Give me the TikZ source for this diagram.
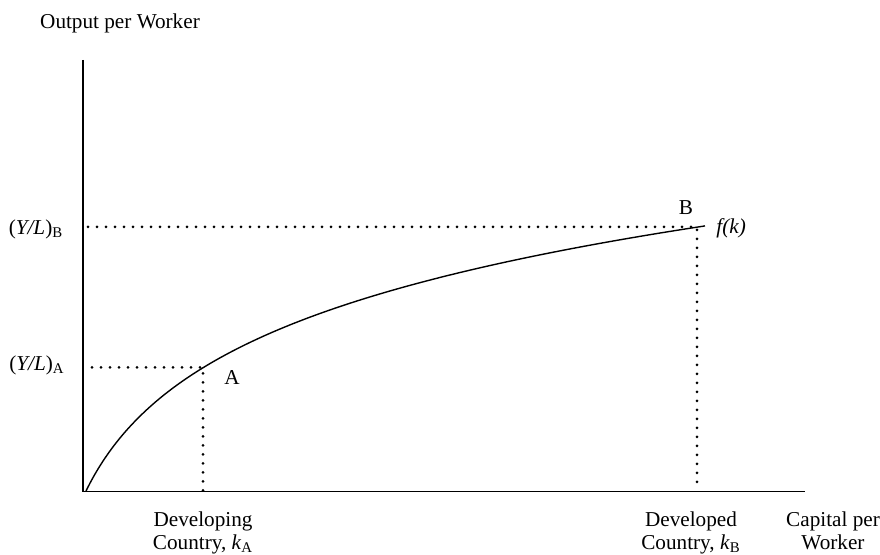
\documentclass[tikz,border=0pt]{standalone}
\usepackage{fontspec}
\setmainfont{Liberation Serif}
\begin{document}
\begin{tikzpicture}[x=0.5pt,y=-0.5pt,
  axis/.style={line width=0.8pt},
  curve/.style={line width=0.7pt},
  dots/.style={line width=1.5pt, line cap=round, dash pattern=on 0pt off 4.5pt},
  lbl/.style={font=\fontsize{10.6}{11.8}\selectfont, inner sep=0pt, align=center}]
\useasboundingbox (0,0) rectangle (880,555);
% axes
\coordinate (O) at (83,491.5);
\coordinate (Ytop) at (83,60);
\coordinate (Xend) at (805,491.5);
\draw[axis] (Ytop) -- (O) -- (Xend);
% points
\coordinate (A) at (203,367.5);
\coordinate (B) at (697,227);
\coordinate (yA) at (92,367.5);
\coordinate (yB) at (88,227);
\coordinate (kA) at (203,491);
\coordinate (kB) at (697,491);
% dotted guides
\draw[dots] (yA) -- (A) -- (kA);
\draw[dots] (yB) -- (B) -- (kB);
% curve f(k)
\draw[curve] plot[domain=0:619, samples=150, smooth] ({86+\x},{491-102.2*ln(1+\x/50)});
% labels
\node[lbl] (tOut) at (120,23) {Output per Worker};
\node[lbl] (tYB) at (36,229) {(\textit{Y/L})$_{\mathrm{B}}$};
\node[lbl] (tYA) at (37,365) {(\textit{Y/L})$_{\mathrm{A}}$};
\node[lbl] (tA) at (232,378) {A};
\node[lbl] (tB) at (686,208) {B};
\node[lbl, anchor=west] (tf) at (716,228) {\textit{f(k)}};
\node[lbl, anchor=north] (tDev) at (203,511) {Developing\\Country, \textit{k}$_{\mathrm{A}}$};
\node[lbl, anchor=north] (tDvd) at (691,511) {Developed\\Country, \textit{k}$_{\mathrm{B}}$};
\node[lbl, anchor=north] (tCap) at (833,511) {Capital per\\Worker};
\end{tikzpicture}
\end{document}
